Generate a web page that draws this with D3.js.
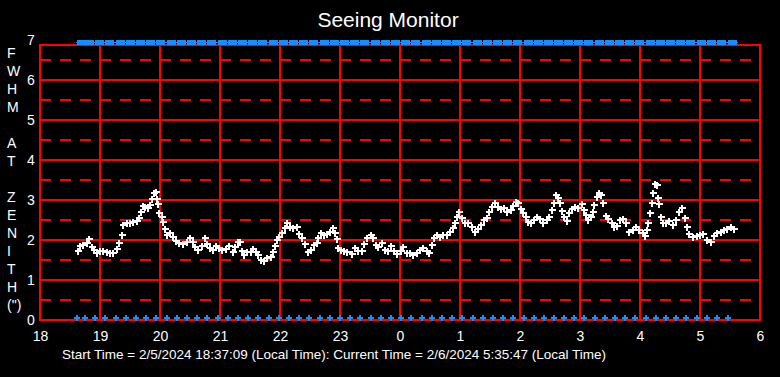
<!DOCTYPE html>
<html>
<head>
<meta charset="utf-8">
<script src="https://cdn.jsdelivr.net/npm/d3@7"></script>
<style>
  body { margin: 0; background: #000; }
  svg { display: block; font-family: "Liberation Sans", Arial, sans-serif; }
</style>
</head>
<body>
<svg id="chart" width="780" height="377"></svg>
<script>
// seeing samples: minutes after 18:00 local, FWHM at zenith (arcsec)
const seeingMinutes = [38,40,43,47,49,52,54,57,60,63,67,70,73,77,79,82,83,87,90,93,97,99,101,103,105,108,110,112,114,116,117,118,119,122,123,125,127,130,133,136,139,143,147,150,153,155,158,162,165,167,170,173,176,179,182,186,189,193,195,198,200,202,204,207,211,213,216,218,221,224,227,231,233,235,237,239,242,245,247,250,253,257,259,262,265,268,271,274,277,278,281,284,287,290,293,295,297,298,301,304,307,312,315,318,322,324,327,331,333,336,338,342,345,348,351,354,357,361,363,367,370,373,377,380,383,387,389,392,394,397,400,403,407,410,413,415,417,419,422,425,428,432,435,438,441,444,447,449,452,455,458,461,464,467,471,473,476,478,481,483,486,488,491,494,497,500,503,507,509,512,514,516,518,520,522,524,527,529,532,535,538,542,544,546,548,551,553,554,557,559,561,563,566,568,572,574,577,580,583,586,589,593,596,599,603,605,607,608,610,612,613,615,617,618,619,621,623,626,629,633,636,639,642,645,647,649,653,657,660,663,667,671,674,677,681,684,687,691,694];
const seeingValues = [1.73,1.86,1.88,1.92,2.02,1.83,1.75,1.67,1.73,1.73,1.69,1.68,1.67,1.78,1.92,2.13,2.38,2.42,2.43,2.46,2.48,2.56,2.69,2.86,2.83,2.81,2.88,3.03,3.17,3.21,3.03,2.89,2.67,2.58,2.46,2.28,2.13,2.18,2.08,1.98,1.92,1.89,1.96,2.06,1.96,1.83,1.75,1.85,2.04,1.89,1.79,1.75,1.85,1.79,1.75,1.78,1.86,1.71,1.83,1.96,1.96,1.73,1.63,1.71,1.69,1.78,1.71,1.63,1.50,1.48,1.54,1.58,1.71,1.86,2.00,2.08,2.17,2.29,2.42,2.33,2.31,2.33,2.14,2.04,1.89,1.69,1.75,1.88,1.92,2.06,2.17,2.13,2.15,2.19,2.31,2.17,2.03,1.81,1.75,1.73,1.69,1.65,1.79,1.73,1.73,1.89,2.04,2.13,2.04,1.88,1.83,1.92,1.75,1.73,1.86,1.73,1.64,1.73,1.82,1.68,1.67,1.63,1.67,1.75,1.79,1.73,1.67,1.88,2.04,2.13,2.08,2.13,2.13,2.21,2.29,2.43,2.58,2.71,2.54,2.43,2.42,2.32,2.21,2.27,2.38,2.50,2.54,2.71,2.83,2.92,2.82,2.77,2.79,2.71,2.75,2.85,2.96,2.92,2.77,2.67,2.58,2.46,2.42,2.50,2.58,2.52,2.43,2.50,2.58,2.75,2.92,3.13,3.04,2.92,2.73,2.58,2.48,2.67,2.77,2.83,2.79,2.89,2.75,2.63,2.50,2.58,2.71,2.88,3.07,3.18,3.13,2.93,2.60,2.52,2.42,2.32,2.35,2.50,2.52,2.42,2.21,2.25,2.33,2.25,2.17,2.10,2.25,2.42,2.67,2.92,3.18,3.40,3.38,3.04,2.90,2.58,2.42,2.43,2.48,2.38,2.50,2.71,2.79,2.54,2.33,2.15,2.08,2.10,2.13,2.15,2.00,1.96,2.10,2.18,2.21,2.25,2.27,2.32,2.27];

// blue status samples (about every 10 min), drawn at the floor and at the top limit
const statusMinutes = [37,45,55,65,76,86,96,106,116,127,137,147,157,167,178,188,198,208,218,229,239,249,259,269,280,290,300,310,320,331,341,351,361,371,382,392,402,412,422,433,443,453,463,473,484,494,504,514,524,534,544,555,565,575,585,595,606,616,626,636,646,657,667,677,688];
const statusLow = 0;
const statusHigh = 7;

const xTicks = [18,19,20,21,22,23,24,25,26,27,28,29,30];
const xTickLabels = ['18','19','20','21','22','23','0','1','2','3','4','5','6'];
const yTicks = [0,1,2,3,4,5,6,7];
const yTitle = ['F','W','H','M',' ','A','T',' ','Z','E','N','I','T','H','(")'];

const chartTitle = 'Seeing Monitor';
const footer = 'Start Time = 2/5/2024 18:37:09 (Local Time): Current Time = 2/6/2024 5:35:47 (Local Time)';

const plotLeft = 40, plotRight = 760, plotTop = 45, plotBottom = 320;
const red = '#ff0000';
const blue = '#1a8cff';

const svg = d3.select('#chart');
const toHour = m => 18 + m / 60;

const x = d3.scaleLinear().domain([18, 30]).range([plotLeft, plotRight]);
const y = d3.scaleLinear().domain([0, 7]).range([plotBottom, 40]);

svg.append('rect')
	.attr('width', 780).attr('height', 377)
	.attr('fill', '#000');

// grid
const grid = svg.append('g');

grid.selectAll('.dash')
	.data(d3.range(0.5, 7, 1))
	.join('line')
	.attr('x1', plotLeft).attr('x2', plotRight)
	.attr('y1', d => y(d)).attr('y2', d => y(d))
	.attr('stroke', red)
	.attr('stroke-width', 2)
	.attr('stroke-dasharray', '11,9');

grid.selectAll('.hline')
	.data(yTicks.filter(d => d > 0 && d < 7))
	.join('line')
	.attr('x1', plotLeft).attr('x2', plotRight)
	.attr('y1', d => y(d)).attr('y2', d => y(d))
	.attr('stroke', red)
	.attr('stroke-width', 2);

grid.selectAll('.vline')
	.data(xTicks.slice(1, -1))
	.join('line')
	.attr('x1', d => x(d)).attr('x2', d => x(d))
	.attr('y1', plotTop).attr('y2', plotBottom)
	.attr('stroke', red)
	.attr('stroke-width', 2);

svg.append('rect')
	.attr('x', plotLeft).attr('y', plotTop)
	.attr('width', plotRight - plotLeft).attr('height', plotBottom - plotTop)
	.attr('fill', 'none')
	.attr('stroke', red)
	.attr('stroke-width', 2);

// axes
const xAxis = svg.append('g')
	.attr('transform', `translate(0,${plotBottom})`)
	.call(d3.axisBottom(x).tickValues(xTicks).tickFormat((d, i) => xTickLabels[i]).tickSize(0).tickPadding(11));

const yAxis = svg.append('g')
	.attr('transform', 'translate(31,0)')
	.call(d3.axisLeft(y).tickValues(yTicks).tickFormat(d3.format('d')).tickSize(0).tickPadding(0));

yAxis.selectAll('text').attr('text-anchor', 'middle');

[xAxis, yAxis].forEach(a => {
	a.select('.domain').remove();
	a.selectAll('text')
		.attr('fill', '#fff')
		.style('font-size', '14px')
		.style('font-family', '"Liberation Sans", Arial, sans-serif');
});

svg.append('g').selectAll('text')
	.data(yTitle)
	.join('text')
	.attr('x', 7)
	.attr('y', (d, i) => 53 + i * 18)
	.attr('dy', '0.35em')
	.attr('fill', '#fff')
	.style('font-size', '14px')
	.text(d => d);

svg.append('text')
	.attr('x', 388).attr('y', 27)
	.attr('text-anchor', 'middle')
	.attr('fill', '#fff')
	.style('font-size', '21px')
	.text(chartTitle);

svg.append('text')
	.attr('x', 62).attr('y', 359)
	.attr('fill', '#fff')
	.style('font-size', '13.5px')
	.text(footer);

// blue status markers
svg.append('line')
	.attr('x1', x(toHour(statusMinutes[0])) - 1)
	.attr('x2', x(toHour(statusMinutes[statusMinutes.length - 1])) + 10)
	.attr('y1', y(statusHigh) + 2.5).attr('y2', y(statusHigh) + 2.5)
	.attr('stroke', blue).attr('stroke-width', 1);

svg.append('g').selectAll('rect')
	.data(statusMinutes)
	.join('rect')
	.attr('x', d => x(toHour(d)))
	.attr('y', y(statusHigh))
	.attr('width', 9).attr('height', 5)
	.attr('fill', blue);

const plus = (sel, r) => sel.attr('d', `M${-r},0H${r}M0,${-r}V${r}`);

svg.append('g').selectAll('path')
	.data(statusMinutes)
	.join('path')
	.call(plus, 3)
	.attr('transform', d => `translate(${Math.round(x(toHour(d)))},${y(statusLow) - 2})`)
	.attr('stroke', blue)
	.attr('stroke-width', 2)
	.attr('shape-rendering', 'crispEdges')
	.attr('fill', 'none');

// seeing data
svg.append('g').selectAll('path')
	.data(seeingMinutes.map((m, i) => [toHour(m), seeingValues[i]]))
	.join('path')
	.call(plus, 3.5)
	.attr('transform', d => `translate(${Math.round(x(d[0]))},${Math.round(y(d[1]))})`)
	.attr('stroke', '#fff')
	.attr('stroke-width', 2)
	.attr('shape-rendering', 'crispEdges')
	.attr('fill', 'none');
</script>
</body>
</html>
